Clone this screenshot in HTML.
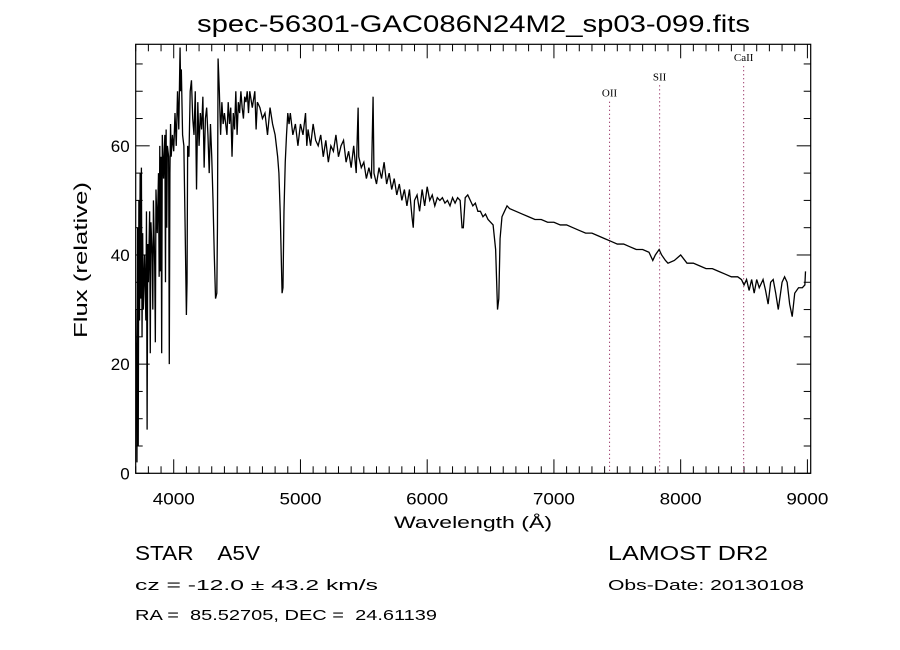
<!DOCTYPE html>
<html><head><meta charset="utf-8"><style>
body{margin:0;background:#fff;}
svg{display:block;font-family:"Liberation Sans",sans-serif;}
svg text{white-space:pre;}
</style></head><body>
<svg id="chart" width="900" height="650" viewBox="0 0 900 650" xmlns="http://www.w3.org/2000/svg">
<rect width="900" height="650" fill="#fff"/>
<text x="197" y="32" font-size="24" textLength="553" lengthAdjust="spacingAndGlyphs">spec-56301-GAC086N24M2_sp03-099.fits</text>
<text x="394" y="528" font-size="17" textLength="158" lengthAdjust="spacingAndGlyphs">Wavelength (Å)</text>
<text transform="translate(87,338) rotate(-90)" font-size="18" textLength="156" lengthAdjust="spacingAndGlyphs">Flux (relative)</text>
<text x="135" y="560" font-size="20" textLength="125" lengthAdjust="spacingAndGlyphs" xml:space="preserve">STAR    A5V</text>
<text x="135" y="590" font-size="15" textLength="243" lengthAdjust="spacingAndGlyphs">cz = -12.0 ± 43.2 km/s</text>
<text x="135" y="620" font-size="15" textLength="302" lengthAdjust="spacingAndGlyphs" xml:space="preserve">RA =  85.52705, DEC =  24.61139</text>
<text x="608" y="560" font-size="20" textLength="160" lengthAdjust="spacingAndGlyphs">LAMOST DR2</text>
<text x="608" y="590" font-size="15" textLength="196" lengthAdjust="spacingAndGlyphs">Obs-Date: 20130108</text>
<g id="plot"></g>
</svg>
<script>
const wavelengths=[3700,3710,3715,3720,3725,3730,3735,3740,3745,3750,3755,3760,3770,3780,3785,3790,3795,3800,3810,3815,3820,3830,3835,3840,3850,3855,3860,3870,3880,3885,3890,3895,3900,3905,3910,3920,3930,3935,3940,3945,3950,3960,3965,3970,3975,3980,3990,4000,4010,4020,4030,4040,4050,4055,4060,4070,4080,4090,4100,4105,4110,4120,4130,4140,4150,4160,4170,4180,4190,4200,4210,4220,4230,4240,4250,4260,4270,4280,4290,4300,4310,4320,4330,4340,4345,4350,4360,4370,4380,4390,4400,4420,4430,4440,4450,4460,4470,4480,4490,4500,4510,4520,4530,4540,4550,4560,4570,4580,4590,4600,4620,4640,4650,4660,4680,4700,4720,4740,4760,4780,4800,4820,4830,4840,4850,4855,4862,4870,4880,4890,4900,4910,4920,4940,4960,4980,5000,5020,5040,5050,5060,5080,5100,5120,5140,5160,5180,5200,5220,5240,5260,5280,5300,5320,5340,5360,5380,5400,5420,5440,5455,5460,5480,5500,5520,5540,5560,5573,5580,5600,5620,5640,5660,5680,5700,5720,5740,5760,5780,5800,5820,5840,5860,5880,5890,5900,5920,5940,5960,5980,6000,6020,6040,6060,6080,6100,6120,6140,6160,6180,6200,6220,6240,6260,6275,6285,6300,6320,6340,6360,6380,6400,6420,6440,6460,6480,6500,6520,6540,6555,6565,6575,6590,6610,6630,6650,6700,6750,6800,6850,6900,6950,7000,7050,7100,7150,7200,7250,7300,7350,7400,7450,7500,7550,7600,7650,7700,7750,7780,7800,7830,7850,7880,7900,7950,8000,8050,8100,8150,8200,8250,8300,8350,8400,8450,8480,8500,8520,8540,8560,8580,8600,8620,8650,8670,8690,8710,8730,8750,8770,8800,8820,8840,8860,8880,8900,8930,8960,8980,8985];
const fluxValues=[30,2,45,5,50,28,55,32,56,25,44,30,40,28,48,8,42,35,48,22,46,40,30,50,38,24,52,44,55,36,60,37,58,22,62,54,62,35,63,45,60,58,20,55,64,58,62,59,66,60,70,63,78,70,74,62,60,45,29,35,60,58,70,72,65,62,70,52,68,60,66,63,69,56,65,67,62,55,64,58,50,40,32,33,45,76,70,62,68,64,66,62,68,64,67,58,66,63,70,62,68,66,70,67,65,69,68,70,66,70,67,70,63,68,67,65,66,62,67,64,62,58,55,48,38,33,34,48,57,62,66,64,66,62,64,60,64,62,66,60,63,60,64,61,60,62,58,61,57,60,59,62,58,60,61,57,59,56,60,55,67,58,56,57,54,56,54,69,55,53,56,54,57,53,55,52,54,51,53,50,52,49,52,47,45,50,51,48,52,49,52.5,50,51,49,50.5,50,50.5,49.5,50,49,50.5,49.5,50.5,50,45,45,50.5,51,50,49,49.5,48,48,47,47.5,46.5,46,45.5,41,30,32,43,47,48,49,48.5,48,47.5,47,46.5,46.5,46,46,45.5,45.5,45,44.5,44,44,43.5,43,42.5,42,42,41.5,41,41,40.5,39,40,41,40,39,38.5,39,40,38.5,38.5,38,37.5,37.5,37,36.5,36,36,35.5,34.5,35.5,33.5,35.5,33,35.5,34,35.5,33.5,31,35,35.5,33,30,35,36,35,31,28.7,33,34,34,34.5,37,0];
const xTicks=[4000,5000,6000,7000,8000,9000];
const yTicks=[0,20,40,60];
const lineNames=["OII","SII","CaII"];
const lineWaves=[7439,7834,8497];
const lineLabelFlux=[69,72,75.5];

const NS="http://www.w3.org/2000/svg";
const L=135.7,R=810.7,T=44.3,B=473.3;
const xMin=3700,xMax=9026,yMin=0,yMax=78.6;
function xs(v){return L+(v-xMin)/(xMax-xMin)*(R-L);}
function ys(v){return B-(v-yMin)/(yMax-yMin)*(B-T);}
const g=document.getElementById('plot');
function mk(tag,attrs){const e=document.createElementNS(NS,tag);for(const k in attrs)e.setAttribute(k,attrs[k]);g.appendChild(e);return e;}

const fr=mk('rect',{x:L,y:T,width:R-L,height:B-T,fill:'none',stroke:'#000','stroke-width':1.2});



for(let v=3700;v<=9000;v+=100){
  const major=(v%1000===0);const len=major?14:7;const x=xs(v);
  const t1=mk('line',{x1:x,y1:B,x2:x,y2:B-len,stroke:'#000','stroke-width':1});
  
  
  const t2=mk('line',{x1:x,y1:T,x2:x,y2:T+len,stroke:'#000','stroke-width':1});
  
  
}
xTicks.forEach(v=>{
  const t=mk('text',{x:xs(v),y:B+31,'font-size':17,'text-anchor':'middle',textLength:42,lengthAdjust:'spacingAndGlyphs'});
  t.textContent=String(v);
  
  
});
for(let v=0;v<=75;v+=5){
  const major=(v%20===0);const len=major?14:7;const y=ys(v);
  const t1=mk('line',{x1:L,y1:y,x2:L+len,y2:y,stroke:'#000','stroke-width':1});
  
  
  const t2=mk('line',{x1:R,y1:y,x2:R-len,y2:y,stroke:'#000','stroke-width':1});
  
  
}
yTicks.forEach(v=>{
  const t=mk('text',{x:L-6,y:ys(v)+6,'font-size':17,'text-anchor':'end'});
  t.textContent=String(v);
  
  
});
lineWaves.forEach((w,i)=>{
  const x=xs(w);
  const ln=mk('line',{x1:x,y1:ys(lineLabelFlux[i])+5,x2:x,y2:B,stroke:'#800040','stroke-width':1,'stroke-dasharray':'1,3'});
  
  
  const t=mk('text',{x:x,y:ys(lineLabelFlux[i]),'font-size':11,'text-anchor':'middle','font-family':'Liberation Serif, serif'});
  t.textContent=lineNames[i];
  
  
});
let d='';
wavelengths.forEach((w,i)=>{d+=(i?'L':'M')+xs(w).toFixed(2)+','+ys(fluxValues[i]).toFixed(2);});
const p=mk('path',{d:d,fill:'none',stroke:'#000','stroke-width':1.3,'stroke-linejoin':'miter'});


</script>
</body></html>
